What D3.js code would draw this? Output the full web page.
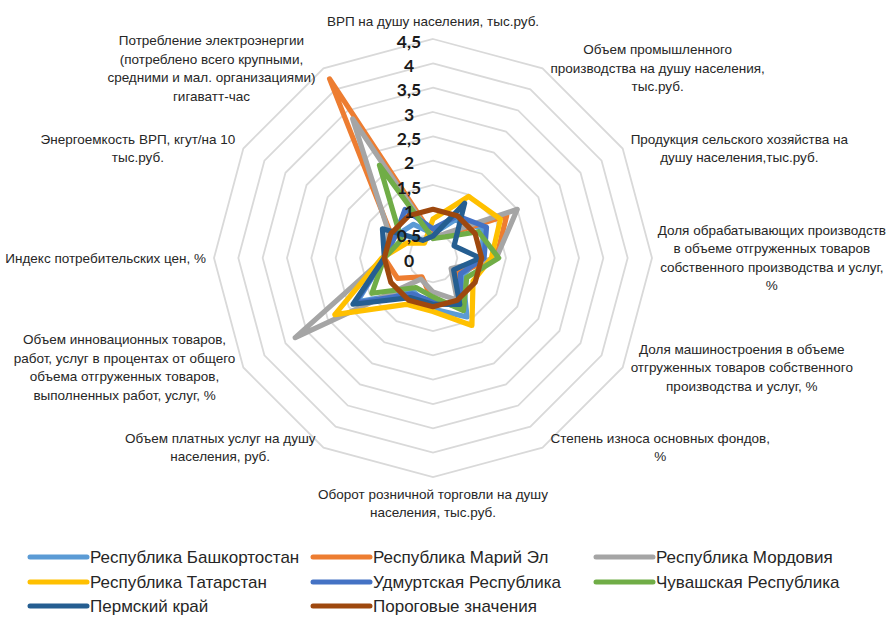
<!DOCTYPE html>
<html>
<head>
<meta charset="utf-8">
<script src="https://cdn.jsdelivr.net/npm/d3@7"></script>
<style>
  html, body { margin: 0; padding: 0; background: #fff; }
  svg { display: block; }
  .cat { font-family: "Liberation Sans Narrow", "Arial Narrow", "Liberation Sans", sans-serif; font-size: 13.5px; fill: #262626; }
  .leg { font-family: "Liberation Sans Narrow", "Arial Narrow", "Liberation Sans", sans-serif; font-size: 17px; fill: #262626; }
  .tick { font-family: Lato, "Liberation Sans", sans-serif; font-weight: bold; font-size: 17.5px; fill: #1a1a1a; }
</style>
</head>
<body>
<svg id="chart" width="886" height="617"></svg>
<script>
// ---- data ----
const categories = [
  "ВРП на душу населения, тыс.руб.",
  "Объем промышленного\nпроизводства на душу населения,\nтыс.руб.",
  "Продукция сельского хозяйства на\nдушу населения,тыс.руб.",
  "Доля обрабатывающих производств\nв объеме отгруженных товаров\nсобственного производства и услуг,\n%",
  "Доля машиностроения в объеме\nотгруженных товаров собственного\nпроизводства и услуг, %",
  "Степень износа основных фондов,\n%",
  "Оборот розничной торговли на душу\nнаселения, тыс.руб.",
  "Объем платных услуг на душу\nнаселения, руб.",
  "Объем инновационных товаров,\nработ, услуг в процентах от общего\nобъема отгруженных товаров,\nвыполненных работ, услуг, %",
  "Индекс потребительских цен, %",
  "Энергоемкость ВРП, кгут/на 10\nтыс.руб.",
  "Потребление электроэнергии\n(потреблено всего крупными,\nсредними и мал. организациями)\nгигаватт-час"
];
const seriesNames = [
  "Республика Башкортостан", "Республика Марий Эл", "Республика Мордовия",
  "Республика Татарстан", "Удмуртская Республика", "Чувашская Республика",
  "Пермский край", "Пороговые значения"
];
const bashkortostan = [0.5, 0.9, 1.2, 1.0, 0.7, 1.4, 1.05, 0.8, 1.8, 1.0, 0.9, 0.8];
const mariyEl       = [0.45, 0.55, 1.75, 1.3, 0.6, 1.15, 0.9, 0.45, 0.84, 1.0, 1.0, 4.25];
const mordoviya     = [0.4, 0.6, 2.0, 1.3, 0.43, 1.0, 0.7, 0.5, 3.27, 1.0, 1.05, 3.3];
const tatarstan     = [0.8, 1.46, 1.6, 1.2, 0.95, 1.6, 1.1, 1.1, 2.33, 1.05, 0.62, 0.35];
const udmurtiya     = [0.6, 1.0, 1.27, 1.05, 0.65, 1.15, 0.9, 0.85, 1.85, 1.0, 0.9, 1.15];
const chuvashiya    = [0.4, 0.5, 1.08, 1.35, 0.8, 1.25, 0.8, 0.7, 1.45, 1.0, 0.75, 2.2];
const permKrai      = [0.45, 1.3, 0.5, 0.97, 0.49, 1.1, 0.95, 0.94, 1.9, 1.0, 1.2, 0.42];
const thresholds    = [1, 1, 1, 1, 1, 1, 1, 1, 1, 1, 1, 1];
const tickValues = [0, 0.5, 1, 1.5, 2, 2.5, 3, 3.5, 4, 4.5];
const tickLabels = ["0", "0,5", "1", "1,5", "2", "2,5", "3", "3,5", "4", "4,5"];

// ---- styles ----
const colors = ["#5B9BD5", "#ED7D31", "#A5A5A5", "#FFC000", "#4472C4", "#70AD47", "#255E91", "#9E480E"];
const seriesValues = [bashkortostan, mariyEl, mordoviya, tatarstan, udmurtiya, chuvashiya, permKrai, thresholds];

const svg = d3.select("#chart");
const cx = 433, cy = 258, R = 219;
const n = categories.length;
const angle = i => i * 2 * Math.PI / n;
const r = d3.scaleLinear().domain([0, 4.5]).range([0, R]);

const g = svg.append("g").attr("transform", `translate(${cx},${cy})`);

// grid rings
const ring = d3.lineRadial().angle((d, i) => angle(i)).radius(d => r(d)).curve(d3.curveLinearClosed);
g.append("g").selectAll("path")
  .data(tickValues.filter(t => t > 0))
  .join("path")
  .attr("d", t => ring(d3.range(n).map(() => t)))
  .attr("fill", "none")
  .attr("stroke", "#D9D9D9")
  .attr("stroke-width", 1.8);

// series
const line = d3.lineRadial().angle((d, i) => angle(i)).radius(d => r(d)).curve(d3.curveLinearClosed);
g.append("g").selectAll("path")
  .data(seriesValues)
  .join("path")
  .attr("d", d => line(d))
  .attr("fill", "none")
  .attr("stroke", (d, i) => colors[i])
  .attr("stroke-width", 5.2)
  .attr("stroke-linejoin", "round");

// tick labels
g.append("g").selectAll("text")
  .data(tickValues)
  .join("text")
  .attr("class", "tick")
  .attr("x", -24)
  .attr("y", t => -r(t) + 2)
  .attr("text-anchor", "middle")
  .attr("dominant-baseline", "central")
  .text((t, i) => tickLabels[i]);

// category labels
const lineH = 18.5, gap = 8;
categories.forEach((c, i) => {
  const lines = c.split("\n");
  const a = angle(i);
  const vx = R * Math.sin(a), vy = -R * Math.cos(a);
  const t = g.append("text").attr("class", "cat").attr("text-anchor", "middle");
  lines.forEach((l, k) => t.append("tspan").text(l));
  let maxW = 0;
  t.selectAll("tspan").each(function () { maxW = Math.max(maxW, this.getComputedTextLength()); });
  let x, yc;
  const h = lines.length * lineH;
  if (Math.abs(Math.sin(a)) < 1e-6) {
    x = 0;
    yc = vy < 0 ? vy - 8 - h / 2 : vy + 8 + h / 2;
  } else if (Math.sin(a) > 0) {
    x = Math.min(vx + gap + maxW / 2, 886 - cx - maxW / 2);
    yc = vy;
  } else {
    x = Math.max(vx - gap - maxW / 2, -cx + maxW / 2 + 4);
    yc = vy;
  }
  t.selectAll("tspan")
    .attr("x", x)
    .attr("y", (d, k) => yc - h / 2 + lineH / 2 + k * lineH)
    .attr("dominant-baseline", "central");
});

// legend
const legX = [30, 313, 596], legY = [557, 582, 606];
const leg = svg.append("g");
seriesNames.forEach((s, i) => {
  const col = i % 3, row = Math.floor(i / 3);
  const lg = leg.append("g").attr("transform", `translate(${legX[col]},${legY[row]})`);
  lg.append("line").attr("x1", 0).attr("x2", 57).attr("y1", 0).attr("y2", 0)
    .attr("stroke", colors[i]).attr("stroke-width", 5).attr("stroke-linecap", "round");
  lg.append("text").attr("class", "leg").attr("x", 60).attr("y", 0)
    .attr("dominant-baseline", "central").text(s);
});
</script>
</body>
</html>
